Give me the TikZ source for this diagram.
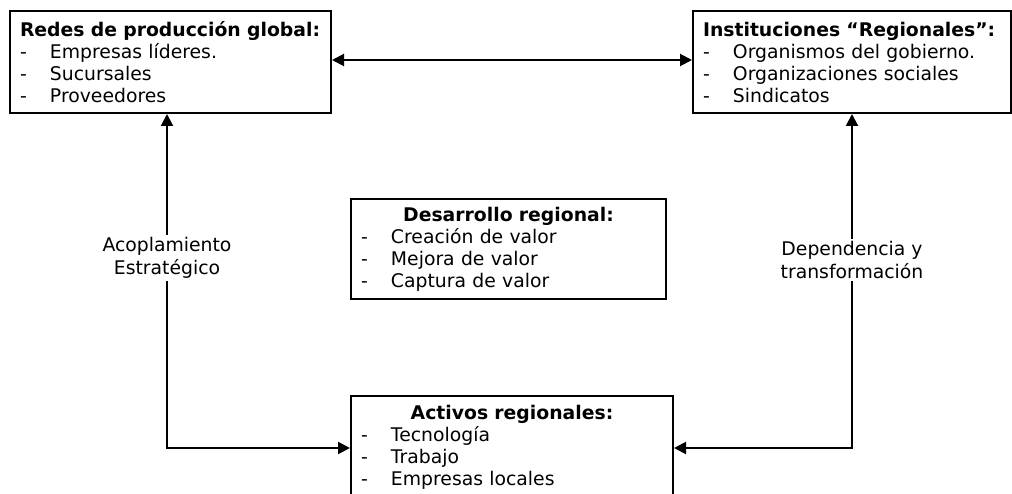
\documentclass[tikz,border=0pt]{standalone}
\usepackage{fontspec}
\setmainfont{DejaVu Sans}
\usetikzlibrary{arrows.meta}
\tikzset{
  box/.style={draw, line width=2pt, anchor=north west, inner xsep=10pt, inner ysep=0pt,
              align=left, font=\fontsize{18.8}{22}\selectfont},
  lbl/.style={fill=white, align=center, inner sep=2pt, font=\fontsize{18.8}{23}\selectfont},
  link/.style={line width=2pt, {Triangle[length=12pt,width=12pt]}-{Triangle[length=12pt,width=12pt]}},
}
\newcommand{\itm}[1]{\makebox[30pt][l]{-}#1}
\begin{document}
\begin{tikzpicture}[x=1pt,y=-1pt]
  \useasboundingbox (0,0) rectangle (1012,494);
  \clip (0,0) rectangle (1012,494);

  % the four boxes
  \node[box, minimum width=321pt, minimum height=102pt, text width=301pt] (redes) at (9,10)
    {\textbf{Redes de producción global:}\\
     \itm{Empresas líderes.}\\
     \itm{Sucursales}\\
     \itm{Proveedores}};
  \node[box, minimum width=318pt, minimum height=102pt, text width=298pt] (inst) at (692,10)
    {\textbf{Instituciones “Regionales”:}\\
     \itm{Organismos del gobierno.}\\
     \itm{Organizaciones sociales}\\
     \itm{Sindicatos}};
  \node[box, minimum width=315pt, minimum height=100pt, text width=295pt] (desa) at (350,198)
    {\makebox[295pt][c]{\textbf{Desarrollo regional:}}\\
     \itm{Creación de valor}\\
     \itm{Mejora de valor}\\
     \itm{Captura de valor}};
  \node[box, minimum width=322pt, minimum height=102pt, text width=302pt] (activos) at (350,395)
    {\makebox[302pt][c]{\textbf{Activos regionales:}}\\
     \itm{Tecnología}\\
     \itm{Trabajo}\\
     \itm{Empresas locales}};

  % connectors
  \coordinate (lc) at (167,448);
  \coordinate (rc) at (852,448);
  \draw[link] (redes.east |- 0,60) -- (inst.west |- 0,60);
  \draw[link] (redes.south -| lc) -- (lc) -- (activos.west |- lc);
  \draw[link] (inst.south -| rc) -- (rc) -- (activos.east |- rc);

  % connector labels
  \node[lbl] (acop) at (167,258) {Acoplamiento\\Estratégico};
  \node[lbl] (dep) at (852,260) {Dependencia y\\transformación};
\end{tikzpicture}
\end{document}
